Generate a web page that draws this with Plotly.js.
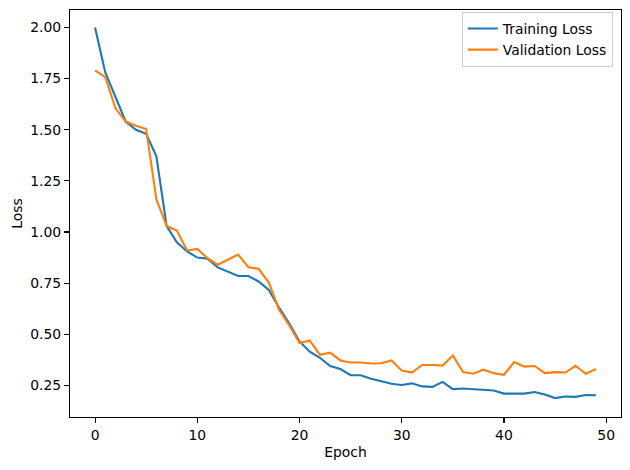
<!DOCTYPE html>
<html>
<head>
<meta charset="utf-8">
<script src="https://cdn.plot.ly/plotly-3.0.1.min.js"></script>
<style>html,body{margin:0;padding:0;background:#fff;}#chart{width:630px;height:470px;}</style>
</head>
<body>
<div id="chart"></div>
<script>
const epochs = Array.from({length: 50}, (_, i) => i);
const trainingLoss = [2.00, 1.78, 1.66, 1.54, 1.50, 1.48, 1.37, 1.03, 0.95, 0.905,
  0.875, 0.87, 0.827, 0.805, 0.785, 0.785, 0.758, 0.717, 0.63, 0.552,
  0.465, 0.415, 0.385, 0.345, 0.33, 0.30, 0.30, 0.282, 0.27, 0.258,
  0.252, 0.26, 0.245, 0.243, 0.267, 0.232, 0.235, 0.232, 0.227, 0.225,
  0.21, 0.209, 0.21, 0.218, 0.206, 0.188, 0.196, 0.194, 0.203, 0.202];
const validationLoss = [1.79, 1.757, 1.605, 1.54, 1.52, 1.503, 1.16, 1.03, 1.007, 0.91,
  0.917, 0.872, 0.84, 0.867, 0.89, 0.828, 0.82, 0.753, 0.62, 0.543,
  0.457, 0.47, 0.40, 0.41, 0.372, 0.362, 0.362, 0.357, 0.358, 0.372,
  0.323, 0.313, 0.35, 0.35, 0.347, 0.397, 0.315, 0.307, 0.327, 0.31,
  0.302, 0.364, 0.342, 0.345, 0.31, 0.315, 0.313, 0.346, 0.307, 0.33];
const seriesNames = ["Training Loss", "Validation Loss"];
const xTicks = [0, 10, 20, 30, 40, 50];
const yTicks = [0.25, 0.50, 0.75, 1.00, 1.25, 1.50, 1.75, 2.00];

const font = {family: "DejaVu Sans", size: 13.9, color: "#000"};
const traces = [
  {x: epochs, y: trainingLoss, name: seriesNames[0], type: "scatter", mode: "lines",
   line: {color: "#1f77b4", width: 2.1}},
  {x: epochs, y: validationLoss, name: seriesNames[1], type: "scatter", mode: "lines",
   line: {color: "#ff7f0e", width: 2.1}}
];
const axisCommon = {
  showgrid: false, zeroline: false, showline: true, mirror: true,
  linecolor: "#000", linewidth: 1.1, ticks: "outside", ticklen: 5,
  tickwidth: 1.1, tickcolor: "#000", tickfont: font, automargin: false
};
const layout = {
  width: 630, height: 470,
  margin: {l: 70, r: 9, t: 10, b: 53},
  paper_bgcolor: "#fff", plot_bgcolor: "#fff",
  font: font,
  showlegend: true,
  legend: {x: 0.985, y: 0.995, xanchor: "right", yanchor: "top",
    bgcolor: "rgba(255,255,255,0.8)", bordercolor: "#cccccc", borderwidth: 1,
    font: font, itemwidth: 30, tracegroupgap: 0},
  xaxis: Object.assign({}, axisCommon, {
    range: [-2.45, 51.45], tickvals: xTicks, ticktext: xTicks.map(String),
    title: {text: "Epoch", font: font, standoff: 5}
  }),
  yaxis: Object.assign({}, axisCommon, {
    range: [0.0955, 2.0855], tickvals: yTicks, ticktext: yTicks.map(v => v.toFixed(2)),
    title: {text: "Loss", font: font, standoff: 4}
  })
};
Plotly.newPlot("chart", traces, layout, {displayModeBar: false, staticPlot: true});
</script>
</body>
</html>
